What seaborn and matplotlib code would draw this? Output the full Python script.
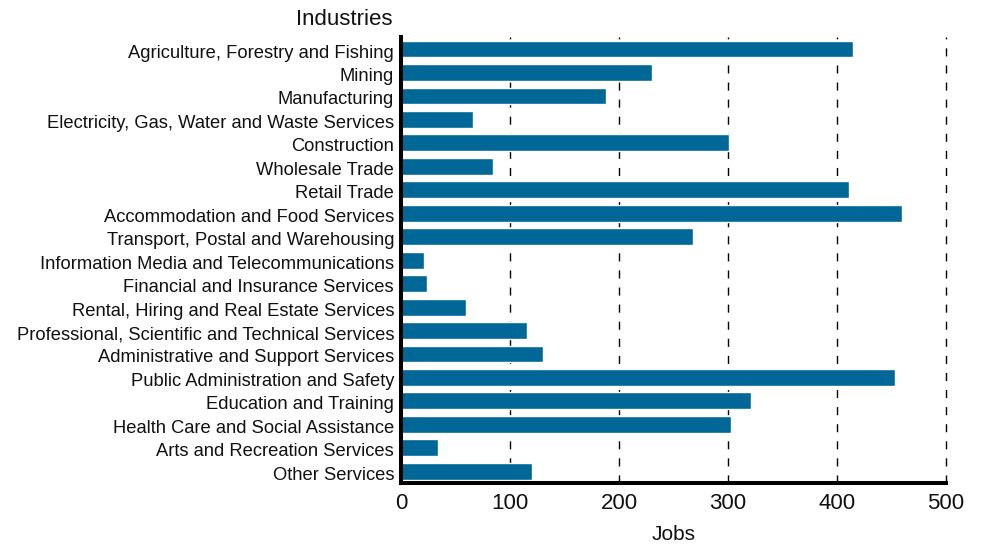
import matplotlib
matplotlib.use("Agg")
import matplotlib.pyplot as plt
import matplotlib.transforms as mtransforms
import seaborn as sns
import pandas as pd

industries = [
    "Agriculture, Forestry and Fishing",
    "Mining",
    "Manufacturing",
    "Electricity, Gas, Water and Waste Services",
    "Construction",
    "Wholesale Trade",
    "Retail Trade",
    "Accommodation and Food Services",
    "Transport, Postal and Warehousing",
    "Information Media and Telecommunications",
    "Financial and Insurance Services",
    "Rental, Hiring and Real Estate Services",
    "Professional, Scientific and Technical Services",
    "Administrative and Support Services",
    "Public Administration and Safety",
    "Education and Training",
    "Health Care and Social Assistance",
    "Arts and Recreation Services",
    "Other Services",
]
jobs = [415, 230, 188, 66, 301, 84, 411, 460, 268, 21,
        24, 60, 116, 130, 453, 321, 303, 34, 120]
x_ticks = [0, 100, 200, 300, 400, 500]

sns.set_theme(style="white")
plt.rcParams["font.family"] = ["Liberation Sans", "DejaVu Sans"]
plt.rcParams["lines.scale_dashes"] = False

df = pd.DataFrame({"Industry": industries, "Jobs": jobs})

fig = plt.figure(figsize=(9.86, 5.44), dpi=100)
ax = fig.add_axes([0.4067, 0.1121, 0.9594 - 0.4067, 0.9314 - 0.1121])

sns.barplot(data=df, x="Jobs", y="Industry", orient="h", color="#006797",
            saturation=1, width=0.72, ax=ax, zorder=2)

ax.set_xlim(0, 500)
ax.set_ylim(len(industries) - 0.5, -0.5)
ax.set_xticks(x_ticks)
ax.set_xticklabels([str(t) for t in x_ticks])

ax.set_axisbelow(True)
ax.xaxis.grid(True, color="black", linewidth=1.0, linestyle=(0, (5.8, 6.5)))
ax.yaxis.grid(False)
for gl in ax.get_xgridlines():
    gl.set_clip_on(False)

for side in ("top", "right"):
    ax.spines[side].set_visible(False)
for side in ("left", "bottom"):
    ax.spines[side].set_visible(True)
    ax.spines[side].set_linewidth(2.9)
    ax.spines[side].set_color("black")

ax.tick_params(axis="y", length=0, pad=5, labelsize=13.2, labelcolor="#111111")
ax.tick_params(axis="x", length=0, pad=7, labelsize=16, labelcolor="#111111")

# nudge category labels slightly down
shift = mtransforms.ScaledTranslation(0, -2 / 100, fig.dpi_scale_trans)
for lbl in ax.get_yticklabels():
    lbl.set_transform(lbl.get_transform() + shift)

ax.set_ylabel("")
ax.set_xlabel("Jobs", fontsize=15, color="#111111", labelpad=8)

fig.text(393 / 986, 1 - 25 / 544, "Industries", ha="right", va="baseline",
         fontsize=16, color="#111111")

fig.savefig("out.png", dpi=100)
